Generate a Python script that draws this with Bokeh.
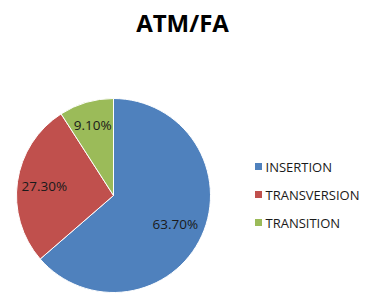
import math
from bokeh.plotting import figure
from bokeh.models import Range1d, ColumnDataSource
from bokeh.core.properties import value
from bokeh.embed import file_html
from bokeh.resources import INLINE

title = "ATM/FA"
categories = ["INSERTION", "TRANSVERSION", "TRANSITION"]
percents = [63.7, 27.3, 9.1]
labels = ["63.70%", "27.30%", "9.10%"]
colors = ["#4F81BD", "#C0504D", "#9BBB59"]

W, H = 369, 296
p = figure(width=W, height=H, output_backend="svg", toolbar_location=None,
           x_range=Range1d(0, W), y_range=Range1d(0, H), min_border=0)
p.axis.visible = False
p.grid.visible = False
p.outline_line_color = None
p.background_fill_color = "white"
p.border_fill_color = "white"

cx, cy, R = 113, H - 195, 97
total = sum(percents)
starts, ends, lx, ly = [], [], [], []
a = math.pi / 2
fracs = [0.70, 0.72, 0.76]
for i, v in enumerate(percents):
    span = 2 * math.pi * v / total
    starts.append(a)
    ends.append(a - span)
    mid = a - span / 2
    lx.append(cx + fracs[i] * R * math.cos(mid))
    ly.append(cy + fracs[i] * R * math.sin(mid))
    a -= span

src = ColumnDataSource(dict(x=[cx] * 3, y=[cy] * 3, start=starts, end=ends,
                            color=colors, lx=lx, ly=ly, label=labels))
p.wedge(x="x", y="y", radius=R, start_angle="start", end_angle="end",
        direction="clock", fill_color="color", line_color="white",
        line_width=1, source=src)
p.text(x="lx", y="ly", text="label", source=src, text_align="center",
       text_baseline="middle", text_font=value("Open Sans"),
       text_font_size="13.5px", text_color="#1a1a1a")

p.text(x=[182], y=[H - 22], text=[title], text_align="center",
       text_baseline="middle", text_font=value("Open Sans"),
       text_font_style="bold", text_font_size="24px", text_color="#000000")

leg_y = [H - (166 + 28 * i) for i in range(len(categories))]
p.scatter(x=[258] * 3, y=leg_y, marker="square", size=7, fill_color=colors,
          line_color=None)
p.text(x=[265] * 3, y=leg_y, text=categories, text_align="left",
       text_baseline="middle", text_font=value("Open Sans"),
       text_font_size="13px", text_color="#1a1a1a")

open("out.html", "w").write(file_html(p, INLINE))
